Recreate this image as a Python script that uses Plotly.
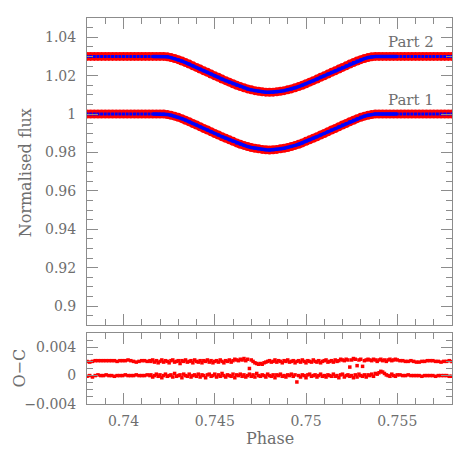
import numpy as np
import plotly.graph_objects as go

# Light curve: phase grid (step 0.0002) and normalised flux of Part 1
phase = np.round(np.arange(0.738, 0.75801, 0.0002), 4)
flux_part1 = [
    1.0000, 1.0000, 1.0000, 1.0000, 1.0000, 1.0000, 1.0000, 1.0000, 1.0000, 1.0000,
    1.0000, 1.0000, 1.0000, 1.0000, 1.0000, 1.0000, 1.0000, 1.0000, 1.0000, 1.0000,
    1.0000, 1.0000,
    0.9998, 0.9994, 0.9989, 0.9983, 0.9976, 0.9968, 0.9960, 0.9951, 0.9943, 0.9934,
    0.9925, 0.9917, 0.9908, 0.9899, 0.9891, 0.9882, 0.9874, 0.9866, 0.9858, 0.9850,
    0.9843, 0.9837, 0.9831, 0.9826, 0.9822, 0.9819, 0.9816, 0.9814, 0.9813,
    0.9814, 0.9816, 0.9819, 0.9822, 0.9826, 0.9831, 0.9837, 0.9843, 0.9850, 0.9858,
    0.9866, 0.9874, 0.9882, 0.9891, 0.9899, 0.9908, 0.9917, 0.9925, 0.9934, 0.9943,
    0.9951, 0.9960, 0.9968, 0.9976, 0.9983, 0.9989, 0.9994, 0.9998, 1.0000,
    1.0000, 1.0000, 1.0000, 1.0000, 1.0000, 1.0000, 1.0000, 1.0000, 1.0000, 1.0000,
    1.0000, 1.0000, 1.0000, 1.0000, 1.0000, 1.0000, 1.0000, 1.0000, 1.0000, 1.0000,
    1.0000,
]
part2_offset = 0.03      # Part 2 is shifted up for display
oc_offset = 0.002        # same for its residuals

# O-C residuals: sparse cadence outside the transit window, dense inside
oc_phase_left = np.round(np.arange(0.738, 0.7415, 0.00015), 5)
oc_phase_dense = np.round(np.arange(0.7415, 0.75505, 0.0001), 4)
oc_phase_right = np.round(np.arange(0.75515, 0.7581, 0.00015), 5)

oc1_left = [-0.0001, 0.0000, -0.0002, 0.0000, 0.0001, 0.0000, 0.0000, 0.0001, 0.0000, 0.0000,
            -0.0001, 0.0000, 0.0000, 0.0000, 0.0001, 0.0000, 0.0000, 0.0000, 0.0001, 0.0000,
            0.0000, 0.0000, 0.0001, 0.0000]
oc1_dense = [
    0.0001, -0.0002, 0.0000, 0.0002, -0.0001, 0.0001, -0.0003, 0.0000, 0.0002, -0.0001,
    0.0000, 0.0001, -0.0002, 0.0003, -0.0001, 0.0000, 0.0001, -0.0003, 0.0002, 0.0000,
    -0.0001, 0.0002, -0.0002, 0.0000, 0.0001, -0.0001, 0.0002, -0.0002, 0.0001, 0.0000,
    -0.0003, 0.0001, 0.0002, -0.0001, 0.0000, 0.0002, -0.0002, 0.0001, -0.0001, 0.0003,
    0.0000, -0.0002, 0.0001, 0.0000, -0.0001, 0.0002, -0.0003, 0.0001, 0.0000, 0.0002,
    -0.0001, 0.0001, -0.0002, 0.0000, 0.0002, -0.0001, 0.0001, -0.0002, 0.0003, 0.0000,
    -0.0001, 0.0001, 0.0000, -0.0002, 0.0002, 0.0000, -0.0001, 0.0001, -0.0003, 0.0001,
    0.0000, 0.0002, -0.0001, 0.0000, -0.0002, 0.0001, 0.0000, 0.0002, -0.0001, 0.0001,
    -0.0009, 0.0000, -0.0002, 0.0001, 0.0000, -0.0003, 0.0001, 0.0002, -0.0001, 0.0000,
    0.0001, -0.0002, 0.0000, 0.0002, -0.0001, 0.0000, -0.0002, 0.0001, 0.0000, -0.0001,
    0.0002, -0.0001, 0.0000, -0.0003, 0.0001, 0.0002, -0.0002, 0.0000, 0.0001, -0.0001,
    0.0000, -0.0003, 0.0001, -0.0002, 0.0002, 0.0000, -0.0001, 0.0001, -0.0002, 0.0001,
    0.0000, 0.0002, -0.0001, 0.0003, 0.0002, 0.0004, 0.0006, 0.0005, 0.0003, 0.0001,
    0.0000, -0.0001, 0.0002, 0.0000, -0.0001, 0.0001,
]
oc1_right = [0.0001, 0.0000, 0.0000, 0.0001, 0.0000, 0.0000, 0.0000, 0.0000, -0.0001, 0.0000,
             0.0000, 0.0000, 0.0000, -0.0001, 0.0000, 0.0000, 0.0000, 0.0000, -0.0001, -0.0001]

oc2_left = [0.0000, -0.0001, 0.0000, 0.0001, 0.0001, 0.0001, 0.0001, 0.0001, 0.0001, 0.0001,
            0.0001, 0.0000, 0.0001, 0.0001, 0.0001, 0.0002, 0.0001, 0.0000, -0.0001, 0.0000,
            0.0001, 0.0001, 0.0000, 0.0001]
oc2_dense = [
    0.0000, 0.0002, -0.0001, 0.0001, -0.0002, 0.0000, 0.0002, -0.0001, 0.0001, 0.0000,
    -0.0002, 0.0001, 0.0002, -0.0001, 0.0000, 0.0001, -0.0003, 0.0001, 0.0000, 0.0002,
    -0.0001, 0.0000, 0.0001, -0.0002, 0.0002, 0.0000, -0.0001, 0.0001, -0.0002, 0.0001,
    0.0000, 0.0002, -0.0001, 0.0001, -0.0002, 0.0000, 0.0001, -0.0001, 0.0002, 0.0000,
    -0.0002, 0.0001, 0.0000, 0.0002, -0.0001, 0.0001, 0.0003, 0.0002, 0.0001, 0.0003,
    0.0002, 0.0004, 0.0001, 0.0003, -0.0010, 0.0002, 0.0000, -0.0002, -0.0003, -0.0004,
    -0.0003, -0.0004, -0.0002, -0.0001, 0.0000, 0.0001, -0.0001, 0.0000, 0.0002, -0.0001,
    0.0001, 0.0000, -0.0002, 0.0001, 0.0000, 0.0002, -0.0001, 0.0000, 0.0001, -0.0002,
    0.0000, 0.0001, -0.0001, 0.0002, 0.0000, -0.0002, 0.0001, 0.0000, -0.0001, 0.0002,
    0.0000, -0.0001, 0.0001, -0.0002, 0.0000, 0.0001, 0.0002, -0.0001, 0.0000, 0.0001,
    -0.0001, 0.0002, 0.0000, 0.0001, 0.0003, 0.0002, 0.0001, 0.0003, 0.0002, -0.0008,
    0.0002, 0.0004, 0.0003, -0.0006, 0.0002, 0.0003, -0.0007, 0.0001, 0.0002, 0.0003,
    0.0002, 0.0001, 0.0003, 0.0002, 0.0000, 0.0002, 0.0003, 0.0001, 0.0002, 0.0000,
    0.0002, 0.0003, 0.0001, 0.0002, 0.0003, 0.0002,
]
oc2_right = [0.0001, 0.0001, 0.0000, 0.0000, 0.0001, 0.0000, -0.0001, -0.0001, 0.0000, 0.0000,
             0.0001, 0.0001, 0.0001, 0.0000, 0.0000, -0.0001, 0.0000, 0.0000, 0.0001, 0.0000]

labels = ["Part 1", "Part 2"]

# Style
RED = "#ff0000"
BLUE = "#0000ff"
GREY = "#6e6e6e"
FRAME = "#8c8c8c"
FONT = "DejaVu Serif"

flux1 = np.array(flux_part1)
flux2 = flux1 + part2_offset
dense = (phase >= 0.7416) & (phase <= 0.755)

oc_phase = np.concatenate([oc_phase_left, oc_phase_dense, oc_phase_right])
oc1 = np.concatenate([oc1_left, oc1_dense, oc1_right])
oc2 = np.concatenate([oc2_left, oc2_dense, oc2_right]) + oc_offset

fig = go.Figure()
for f in (flux1, flux2):
    # observed points
    fig.add_trace(go.Scatter(x=phase, y=f, mode="markers", xaxis="x", yaxis="y",
                             marker=dict(color=RED, size=9, line_width=0), showlegend=False))
    # model
    fig.add_trace(go.Scatter(x=phase[dense], y=f[dense], mode="lines", xaxis="x", yaxis="y",
                             line=dict(color=BLUE, width=3.5), showlegend=False))
    fig.add_trace(go.Scatter(x=phase, y=f, mode="markers", xaxis="x", yaxis="y",
                             marker=dict(color=BLUE, size=3, symbol="square", line_width=0),
                             showlegend=False))

for r in (oc1, oc2):
    fig.add_trace(go.Scatter(x=oc_phase, y=r, mode="markers", xaxis="x2", yaxis="y2",
                             marker=dict(color=RED, size=3.5, symbol="square", line_width=0),
                             showlegend=False))

axis_style = dict(showline=True, linecolor=FRAME, linewidth=1, mirror="allticks",
                  ticks="inside", ticklen=11, tickcolor=FRAME, tickwidth=1,
                  showgrid=False, zeroline=False, automargin=False,
                  tickfont=dict(family=FONT, size=14, color=GREY))

# the page adds an 8px body margin, so the figure is 8px smaller than the window
fig.update_layout(
    width=461, height=461,
    margin=dict(l=79, r=17, t=10, b=65),
    paper_bgcolor="white", plot_bgcolor="white",
    xaxis=dict(domain=[0, 1], range=[0.738, 0.758], anchor="y", showticklabels=False,
               tick0=0.74, dtick=0.005,
               minor=dict(dtick=0.001, ticks="inside", ticklen=6, tickcolor=FRAME),
               **axis_style),
    yaxis=dict(domain=[0.2036, 1], range=[0.89, 1.05], anchor="x",
               tick0=0.9, dtick=0.02, ticklabelstandoff=7,
               minor=dict(dtick=0.005, ticks="inside", ticklen=6, tickcolor=FRAME),
               **axis_style),
    xaxis2=dict(domain=[0, 1], range=[0.738, 0.758], anchor="y2",
                tick0=0.74, dtick=0.005, ticklabelstandoff=4,
                minor=dict(dtick=0.001, ticks="inside", ticklen=6, tickcolor=FRAME),
                **axis_style),
    yaxis2=dict(domain=[0, 0.184], range=[-0.004, 0.006], anchor="x2",
                tick0=0, dtick=0.004, ticklabelstandoff=7,
                minor=dict(dtick=0.001, ticks="inside", ticklen=6, tickcolor=FRAME),
                **axis_style),
)

title_font = dict(family=FONT, size=16, color=GREY)
fig.add_annotation(text="Normalised flux", xref="paper", yref="paper", x=-0.17, y=0.6,
                   xanchor="center", yanchor="middle",
                   textangle=-90, showarrow=False, font=title_font)
fig.add_annotation(text="O\u2212C", xref="paper", yref="paper", x=-0.184, y=0.094,
                   xanchor="center", yanchor="middle",
                   textangle=-90, showarrow=False, font=title_font)
fig.add_annotation(text="Phase", xref="paper", yref="paper", x=0.5, y=-0.09,
                   xanchor="center", yanchor="middle", showarrow=False, font=title_font)

# curve labels
for lab, ypos in zip(labels, [1.0075, 1.0373]):
    fig.add_annotation(text=lab, x=0.7571, y=ypos, xref="x", yref="y", xanchor="right",
                       yanchor="middle", showarrow=False,
                       font=dict(family=FONT, size=15, color=GREY))

fig.write_html("out.html")
